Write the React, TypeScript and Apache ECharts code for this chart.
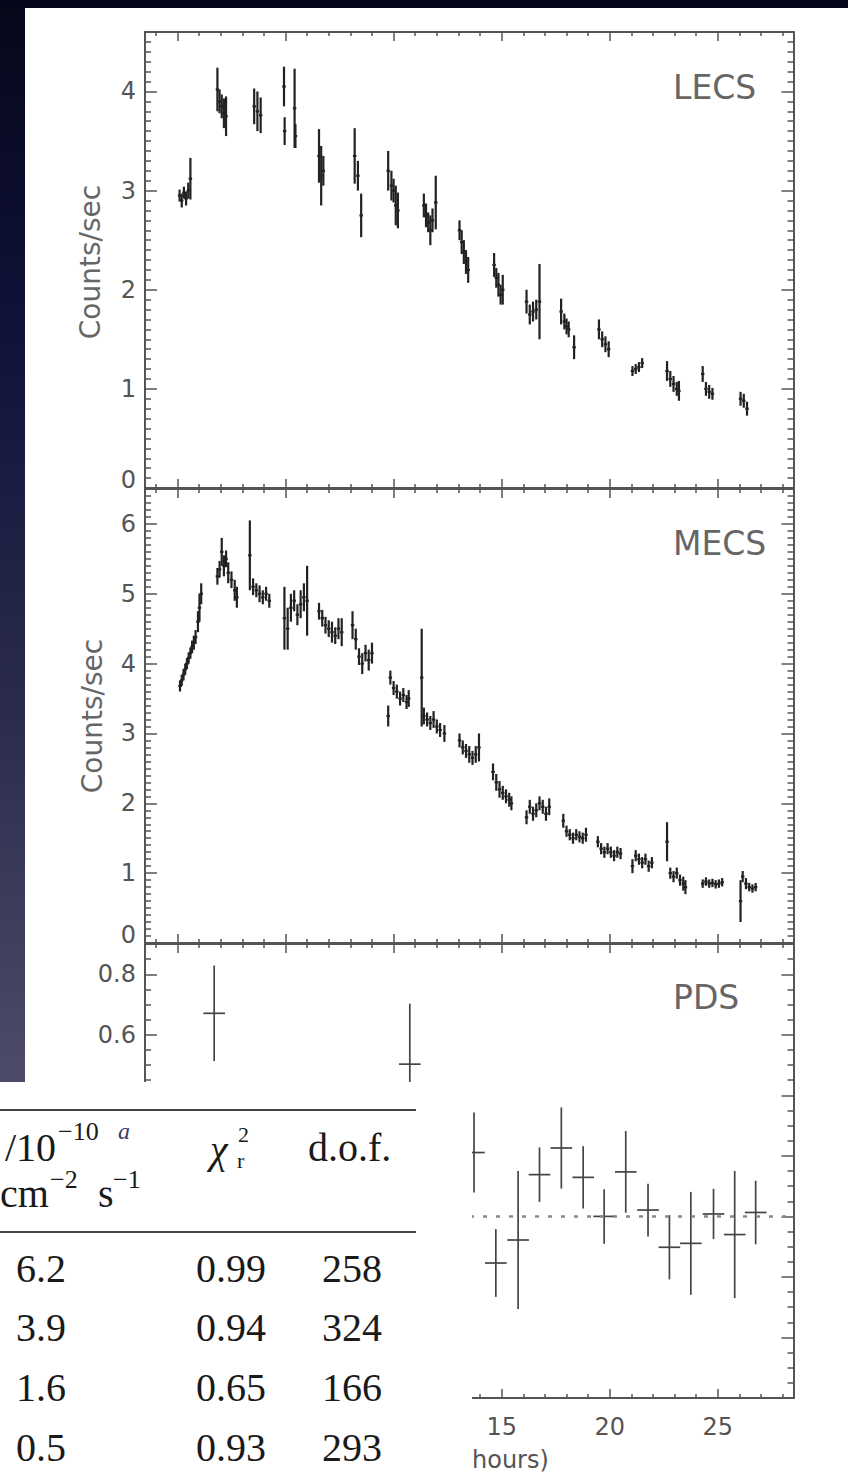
import React, { useEffect, useRef } from "react";
import * as echarts from "echarts";

// ---------- data ----------
// [time (hours), counts/sec, error]
const lecsPoints: number[][] = [
  [0.1, 2.95, 0.06], [0.2, 2.9, 0.07], [0.3, 2.98, 0.06], [0.4, 2.92, 0.07], [0.5, 3.0, 0.08], [0.6, 3.12, 0.21],
  [1.85, 4.02, 0.22], [1.95, 3.9, 0.12], [2.05, 3.85, 0.12], [2.15, 3.78, 0.15], [2.25, 3.75, 0.2],
  [3.55, 3.85, 0.18], [3.7, 3.8, 0.2], [3.85, 3.76, 0.18],
  [4.93, 4.05, 0.2], [4.96, 3.6, 0.14], [5.42, 3.83, 0.4], [5.46, 3.55, 0.12],
  [6.55, 3.35, 0.27], [6.65, 3.15, 0.3], [6.75, 3.2, 0.15],
  [8.2, 3.35, 0.28], [8.35, 3.15, 0.15], [8.5, 2.75, 0.22],
  [9.75, 3.2, 0.2], [9.9, 3.05, 0.15], [10.0, 3.0, 0.12], [10.1, 2.85, 0.2], [10.2, 2.8, 0.18],
  [11.4, 2.85, 0.12], [11.5, 2.75, 0.12], [11.6, 2.68, 0.1], [11.7, 2.6, 0.15], [11.8, 2.7, 0.12], [11.95, 2.88, 0.27],
  [13.05, 2.6, 0.1], [13.15, 2.48, 0.12], [13.25, 2.38, 0.12], [13.35, 2.28, 0.12], [13.45, 2.2, 0.13],
  [14.65, 2.25, 0.12], [14.75, 2.12, 0.1], [14.85, 2.05, 0.12], [14.95, 1.95, 0.1], [15.05, 2.0, 0.15],
  [16.15, 1.88, 0.12], [16.3, 1.75, 0.1], [16.45, 1.78, 0.1], [16.6, 1.8, 0.1], [16.75, 1.88, 0.38],
  [17.75, 1.78, 0.13], [17.9, 1.68, 0.08], [18.0, 1.63, 0.08], [18.1, 1.6, 0.08], [18.35, 1.42, 0.12],
  [19.5, 1.6, 0.1], [19.65, 1.5, 0.08], [19.8, 1.45, 0.08], [19.95, 1.4, 0.08],
  [21.05, 1.18, 0.05], [21.2, 1.2, 0.05], [21.35, 1.22, 0.05], [21.5, 1.26, 0.05],
  [22.65, 1.18, 0.1], [22.8, 1.1, 0.08], [22.95, 1.05, 0.08], [23.1, 1.0, 0.07], [23.2, 0.98, 0.1],
  [24.3, 1.15, 0.08], [24.45, 1.0, 0.07], [24.6, 0.97, 0.07], [24.75, 0.95, 0.06],
  [26.05, 0.9, 0.07], [26.2, 0.88, 0.07], [26.35, 0.8, 0.07],
];

const mecsPoints: number[][] = [
  [0.12, 3.68, 0.08], [0.2, 3.76, 0.08], [0.28, 3.84, 0.08], [0.36, 3.92, 0.08], [0.44, 4.0, 0.08], [0.52, 4.08, 0.08],
  [0.6, 4.15, 0.08], [0.68, 4.24, 0.09], [0.76, 4.3, 0.1], [0.84, 4.38, 0.1],
  [0.95, 4.6, 0.15], [1.02, 4.8, 0.2], [1.1, 5.0, 0.15],
  [1.85, 5.25, 0.12], [1.95, 5.35, 0.12], [2.05, 5.6, 0.2], [2.15, 5.4, 0.15], [2.25, 5.5, 0.12],
  [2.35, 5.3, 0.15], [2.5, 5.2, 0.12], [2.65, 5.05, 0.15], [2.75, 4.95, 0.15],
  [3.35, 5.55, 0.5], [3.5, 5.1, 0.12], [3.65, 5.05, 0.1], [3.8, 5.0, 0.12], [3.95, 4.95, 0.1], [4.1, 5.0, 0.1], [4.25, 4.9, 0.1],
  [4.95, 4.65, 0.45], [5.1, 4.5, 0.3], [5.25, 4.8, 0.2], [5.4, 4.9, 0.15], [5.55, 4.7, 0.15], [5.7, 4.85, 0.2],
  [5.85, 4.95, 0.2], [6.0, 4.9, 0.5],
  [6.55, 4.75, 0.12], [6.7, 4.65, 0.12], [6.85, 4.55, 0.12], [7.0, 4.5, 0.12], [7.15, 4.45, 0.15], [7.3, 4.4, 0.12],
  [7.45, 4.5, 0.15], [7.6, 4.45, 0.2],
  [8.1, 4.55, 0.2], [8.25, 4.35, 0.15], [8.4, 4.1, 0.12], [8.55, 4.0, 0.15], [8.7, 4.15, 0.12], [8.85, 4.05, 0.15], [9.0, 4.15, 0.15],
  [9.75, 3.25, 0.15], [9.85, 3.8, 0.1], [10.0, 3.65, 0.1], [10.15, 3.6, 0.1], [10.3, 3.5, 0.1], [10.45, 3.55, 0.1],
  [10.6, 3.45, 0.1], [10.7, 3.5, 0.12],
  [11.3, 3.8, 0.7], [11.4, 3.25, 0.12], [11.55, 3.2, 0.1], [11.7, 3.15, 0.1], [11.85, 3.2, 0.12], [12.0, 3.1, 0.1],
  [12.15, 3.05, 0.1], [12.35, 3.0, 0.12],
  [13.05, 2.9, 0.1], [13.2, 2.8, 0.1], [13.35, 2.75, 0.1], [13.5, 2.7, 0.12], [13.65, 2.65, 0.1], [13.8, 2.7, 0.12], [13.95, 2.8, 0.2],
  [14.6, 2.45, 0.12], [14.75, 2.3, 0.12], [14.9, 2.2, 0.12], [15.05, 2.15, 0.1], [15.2, 2.1, 0.1], [15.35, 2.05, 0.1], [15.45, 2.0, 0.1],
  [16.15, 1.8, 0.1], [16.3, 1.95, 0.1], [16.45, 1.85, 0.1], [16.6, 1.9, 0.1], [16.75, 2.0, 0.1], [16.9, 1.95, 0.1],
  [17.05, 1.85, 0.1], [17.2, 1.95, 0.12],
  [17.85, 1.75, 0.1], [18.0, 1.6, 0.08], [18.15, 1.55, 0.08], [18.3, 1.5, 0.08], [18.45, 1.55, 0.08], [18.6, 1.52, 0.08],
  [18.75, 1.5, 0.08], [18.9, 1.55, 0.1],
  [19.45, 1.45, 0.08], [19.6, 1.35, 0.08], [19.75, 1.3, 0.08], [19.9, 1.35, 0.08], [20.05, 1.3, 0.08], [20.2, 1.25, 0.08],
  [20.35, 1.3, 0.08], [20.5, 1.28, 0.08],
  [21.05, 1.1, 0.1], [21.2, 1.25, 0.08], [21.35, 1.2, 0.08], [21.5, 1.15, 0.08], [21.65, 1.2, 0.08], [21.8, 1.1, 0.08], [21.95, 1.15, 0.08],
  [22.65, 1.45, 0.28], [22.8, 1.0, 0.08], [22.95, 0.95, 0.08], [23.1, 1.0, 0.08], [23.25, 0.9, 0.08], [23.4, 0.85, 0.1], [23.5, 0.8, 0.1],
  [24.3, 0.85, 0.06], [24.45, 0.88, 0.06], [24.6, 0.85, 0.06], [24.75, 0.86, 0.06], [24.9, 0.84, 0.06], [25.05, 0.85, 0.06], [25.2, 0.87, 0.06],
  [26.05, 0.6, 0.3], [26.15, 0.95, 0.08], [26.3, 0.85, 0.08], [26.45, 0.8, 0.06], [26.6, 0.78, 0.06], [26.75, 0.8, 0.06],
];

const pdsPoints: number[][] = [
  [1.7, 0.671, 0.158], [10.75, 0.503, 0.2], [13.72, 0.211, 0.132], [14.73, -0.154, 0.112], [15.76, -0.078, 0.228],
  [16.75, 0.138, 0.09], [17.76, 0.226, 0.134], [18.77, 0.129, 0.103], [19.74, 0.0, 0.09], [20.74, 0.147, 0.135],
  [21.77, 0.021, 0.087], [22.76, -0.102, 0.106], [23.75, -0.089, 0.17], [24.8, 0.008, 0.083], [25.78, -0.06, 0.21],
  [26.75, 0.013, 0.105],
];

const panelNames = ["LECS", "MECS", "PDS"];
const yLabel = "Counts/sec";
const xAxisVisiblePart = "hours)";

const xMajor = [0, 5, 10, 15, 20, 25];
const xTickLabels = [15, 20, 25];
const lecsMajor = [0, 1, 2, 3, 4];
const mecsMajor = [0, 1, 2, 3, 4, 5, 6];
const pdsMajor = [-0.6, -0.4, -0.2, 0, 0.2, 0.4, 0.6, 0.8];
const pdsTickLabels = [0.6, 0.8];

const tableFlux = ["6.2", "3.9", "1.6", "0.5"];
const tableChi = ["0.99", "0.94", "0.65", "0.93"];
const tableDof = ["258", "324", "166", "293"];

// ---------- helpers ----------
function minorValues(from: number, to: number, step: number, majors: number[]) {
  const out: number[] = [];
  const n = Math.round((to - from) / step);
  for (let i = 0; i <= n; i++) {
    const v = Math.round((from + i * step) * 1000) / 1000;
    if (!majors.some((m) => Math.abs(m - v) < 1e-6)) out.push(v);
  }
  return out;
}

const X_MIN = -1.5;
const X_MAX = 28.5;
const xMinor = minorValues(-1, 28, 1, xMajor);

const panels = [
  { top: 32, height: 456, min: 0, max: 4.6, major: lecsMajor, minor: minorValues(0.1, 4.5, 0.1, lecsMajor), labels: lecsMajor },
  { top: 489, height: 454, min: 0, max: 6.5, major: mecsMajor, minor: minorValues(0.1, 6.4, 0.1, mecsMajor), labels: mecsMajor },
  { top: 944, height: 454, min: -0.6, max: 0.9, major: pdsMajor, minor: minorValues(-0.55, 0.85, 0.05, pdsMajor), labels: pdsTickLabels },
];

const AX = "#555";
const SANS = "DejaVu Sans";
const SERIF = "Liberation Serif";

const errRender = (hw: number, color: string, lw: number) => (params: any, api: any) => {
  const t = api.value(0);
  const v = api.value(1);
  const e = api.value(2);
  const top = api.coord([t, v + e]);
  const bot = api.coord([t, v - e]);
  const l = api.coord([t - hw, v]);
  const r = api.coord([t + hw, v]);
  return {
    type: "group",
    children: [
      { type: "line", shape: { x1: top[0], y1: top[1], x2: bot[0], y2: bot[1] }, style: { stroke: color, lineWidth: lw } },
      { type: "line", shape: { x1: l[0], y1: l[1], x2: r[0], y2: r[1] }, style: { stroke: color, lineWidth: lw } },
    ],
  };
};

function buildOption() {
  const grid: any[] = [];
  const xAxis: any[] = [];
  const yAxis: any[] = [];
  panels.forEach((p, g) => {
    grid.push({ left: 145, right: 54.5, top: p.top, height: p.height, containLabel: false });
    const xa = (pos: string, ticks: number[], len: number, line: boolean, labels?: number[]) => ({
      type: "value",
      gridIndex: g,
      position: pos,
      min: X_MIN,
      max: X_MAX,
      axisLine: { show: line, onZero: false, lineStyle: { color: AX, width: 2 } },
      axisTick: { show: true, inside: true, length: len, customValues: ticks, lineStyle: { color: AX, width: 1.5 } },
      axisLabel: labels
        ? { show: true, customValues: labels, margin: 17, fontSize: 24, fontFamily: SANS, color: AX }
        : { show: false },
      splitLine: { show: false },
    });
    xAxis.push(xa("bottom", xMajor, 9, true, g === 2 ? xTickLabels : undefined));
    xAxis.push(xa("bottom", xMinor, 4, false));
    xAxis.push(xa("top", xMajor, 9, true));
    xAxis.push(xa("top", xMinor, 4, false));
    const ya = (pos: string, ticks: number[], len: number, line: boolean, labels?: number[]) => ({
      type: "value",
      gridIndex: g,
      position: pos,
      min: p.min,
      max: p.max,
      axisLine: { show: line, onZero: false, lineStyle: { color: AX, width: 2 } },
      axisTick: { show: true, inside: true, length: len, customValues: ticks, lineStyle: { color: AX, width: 1.5 } },
      axisLabel: labels
        ? {
            show: true,
            customValues: labels,
            margin: 9,
            fontSize: 24,
            fontFamily: SANS,
            color: AX,
            formatter: (v: number) => (g === 2 ? v.toFixed(1) : v === 0 ? "{z|0}" : String(v)),
            rich: { z: { padding: [0, 0, 16, 0], fontSize: 24, fontFamily: SANS, color: AX } },
          }
        : { show: false },
      splitLine: { show: false },
    });
    yAxis.push(ya("left", p.major, 12, true, p.labels));
    yAxis.push(ya("left", p.minor, 6, false));
    yAxis.push(ya("right", p.major, 12, true));
    yAxis.push(ya("right", p.minor, 6, false));
  });

  const series: any[] = [
    {
      type: "custom",
      xAxisIndex: 0,
      yAxisIndex: 0,
      renderItem: errRender(0.08, "#222", 2.2),
      encode: { x: 0, y: 1 },
      data: lecsPoints,
      z: 3,
    },
    {
      type: "custom",
      xAxisIndex: 4,
      yAxisIndex: 4,
      renderItem: errRender(0.08, "#222", 2.2),
      encode: { x: 0, y: 1 },
      data: mecsPoints,
      z: 3,
    },
    {
      type: "custom",
      xAxisIndex: 8,
      yAxisIndex: 8,
      renderItem: errRender(0.5, "#444", 1.7),
      encode: { x: 0, y: 1 },
      data: pdsPoints,
      z: 3,
      markLine: {
        silent: true,
        symbol: "none",
        label: { show: false },
        lineStyle: { type: [4, 9], color: "#888", width: 2.5 },
        data: [{ yAxis: 0 }],
      },
    },
  ];

  const Z = 100;
  const tColor = "#1a1a1a";
  const serif = (text: string, x: number, y: number, size: number, extra: any = {}) => ({
    type: "text",
    x,
    y,
    z: Z + 1,
    style: { text, fontSize: size, fontFamily: SERIF, fill: tColor, align: "left", verticalAlign: "middle", ...extra },
  });

  const rowY = [1268, 1327, 1387, 1447];
  const graphic: any[] = [
    // slide background
    { type: "rect", shape: { x: 0, y: 0, width: 848, height: 8 }, style: { fill: "#06061a" }, z: 0 },
    {
      type: "rect",
      shape: { x: 0, y: 8, width: 25, height: 1074 },
      style: {
        fill: new echarts.graphic.LinearGradient(0, 0, 0, 1, [
          { offset: 0, color: "#07071a" },
          { offset: 0.3, color: "#10123a" },
          { offset: 0.65, color: "#2a2b4c" },
          { offset: 1, color: "#4d4b69" },
        ]),
      },
      z: 0,
    },
    // y axis titles
    {
      type: "text", x: 90, y: 262, rotation: Math.PI / 2,
      style: { text: yLabel, fontSize: 28, fontFamily: SANS, fill: "#666", align: "center", verticalAlign: "middle" },
    },
    {
      type: "text", x: 92, y: 716, rotation: Math.PI / 2,
      style: { text: yLabel, fontSize: 28, fontFamily: SANS, fill: "#666", align: "center", verticalAlign: "middle" },
    },
    // panel names
    ...panelNames.map((name, i) => ({
      type: "text", x: 673, y: [87.5, 543.5, 997.5][i],
      style: { text: name, fontSize: 33, fontFamily: SANS, fill: "#666", align: "left", verticalAlign: "middle" },
    })),
    // visible part of x axis title
    {
      type: "text", x: 472, y: 1460,
      style: { text: xAxisVisiblePart, fontSize: 24, fontFamily: SANS, fill: AX, align: "left", verticalAlign: "middle" },
    },
    // overlaid table
    { type: "rect", shape: { x: 0, y: 1082, width: 472, height: 396 }, style: { fill: "#ffffff" }, z: Z },
    { type: "line", shape: { x1: 0, y1: 1110, x2: 416, y2: 1110 }, style: { stroke: "#444", lineWidth: 2 }, z: Z + 1 },
    { type: "line", shape: { x1: 0, y1: 1232, x2: 416, y2: 1232 }, style: { stroke: "#444", lineWidth: 2 }, z: Z + 1 },
    serif("/10", 56, 1147, 40, { align: "right" }),
    serif("\u221210", 58, 1131, 26),
    serif("a", 118, 1131, 24, { fontStyle: "italic", fill: "#3a3a6a" }),
    serif("cm", 0, 1193, 40),
    serif("\u22122", 50, 1179, 26),
    serif("s", 98, 1193, 40),
    serif("\u22121", 113, 1179, 26),
    serif("\u03c7", 210, 1149, 40, { fontStyle: "italic" }),
    serif("2", 238, 1134, 22),
    serif("r", 237, 1160, 22),
    serif("d.o.f.", 308, 1147, 40),
    ...tableFlux.map((t, i) => serif(t, 16, rowY[i], 40)),
    ...tableChi.map((t, i) => serif(t, 196, rowY[i], 40)),
    ...tableDof.map((t, i) => serif(t, 322, rowY[i], 40)),
  ];

  return {
    animation: false,
    backgroundColor: "#ffffff",
    grid,
    xAxis,
    yAxis,
    series,
    graphic,
  };
}

export default function App() {
  const ref = useRef<HTMLDivElement>(null);
  useEffect(() => {
    if (!ref.current) return;
    const chart = echarts.init(ref.current, null, { renderer: "svg", width: 848, height: 1478 });
    chart.setOption(buildOption() as any);
    return () => chart.dispose();
  }, []);
  return <div ref={ref} style={{ position: "absolute", left: 0, top: 0, width: 848, height: 1478 }} />;
}
